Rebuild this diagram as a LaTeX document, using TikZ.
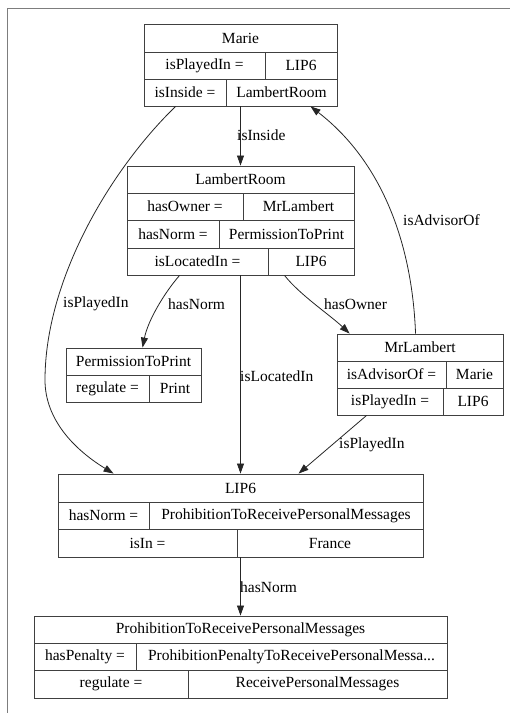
\documentclass[tikz,border=0pt]{standalone}
\usepackage{fontspec}
\setmainfont{Liberation Serif}
\usetikzlibrary{arrows.meta,calc}
\definecolor{framegray}{RGB}{125,125,125}
\newcommand\fsz{\fontsize{15.5}{18}\selectfont}
\newcommand\rcell[6]{\node[cellbox,minimum width={(#4-#2)*1pt},minimum height={(#5-#3)*1pt}] (#1) at ({(#2+#4)/2},{(#3+#5)/2}) {#6};}
\begin{document}
\begin{tikzpicture}[x=1pt,y=-1pt,
  cellbox/.style={draw=black!75,line width=0.9pt,inner sep=0pt,font=\fsz},
  edgeline/.style={draw=black!85,line width=0.8pt,-{Triangle[length=10pt,width=7pt]}},
  labeltxt/.style={font=\fsz,inner sep=0pt,anchor=west}]
\useasboundingbox (0,0) rectangle (510,713);
\draw[framegray,line width=1.5pt] (7.5,713) -- (7.5,8.5) -- (510,8.5);
% Marie
\rcell{mH}{144}{24}{337}{52}{Marie}
\rcell{mK2}{144}{52}{265}{79}{isPlayedIn =}
\rcell{mV2}{265}{52}{337}{79}{LIP6}
\rcell{mK3}{144}{79}{226}{106}{isInside =}
\rcell{mV3}{226}{79}{337}{106}{LambertRoom}
% LambertRoom
\rcell{lH}{127}{166}{354}{193}{LambertRoom}
\rcell{lK2}{127}{193}{243}{220}{hasOwner =}
\rcell{lV2}{243}{193}{354}{220}{MrLambert}
\rcell{lK3}{127}{220}{219}{248}{hasNorm =}
\rcell{lV3}{219}{220}{354}{248}{PermissionToPrint}
\rcell{lK4}{127}{248}{268}{275}{isLocatedIn =}
\rcell{lV4}{268}{248}{354}{275}{LIP6}
% PermissionToPrint
\rcell{pH}{66}{348}{201}{375}{PermissionToPrint}
\rcell{pK2}{66}{375}{149}{402}{regulate =}
\rcell{pV2}{149}{375}{201}{402}{Print}
% MrLambert
\rcell{rH}{337}{334}{503}{361}{MrLambert}
\rcell{rK2}{337}{361}{446}{388}{isAdvisorOf =}
\rcell{rV2}{446}{361}{503}{388}{Marie}
\rcell{rK3}{337}{388}{443}{415}{isPlayedIn =}
\rcell{rV3}{443}{388}{503}{415}{LIP6}
% LIP6
\rcell{iH}{58}{474}{423}{502}{LIP6}
\rcell{iK2}{58}{502}{149}{529}{hasNorm =}
\rcell{iV2}{149}{502}{423}{529}{ProhibitionToReceivePersonalMessages}
\rcell{iK3}{58}{529}{237}{557}{isIn =}
\rcell{iV3}{237}{529}{423}{557}{France}
% Prohibition
\rcell{qH}{34}{616}{447}{643}{ProhibitionToReceivePersonalMessages}
\rcell{qK2}{34}{643}{136}{670}{hasPenalty =}
\rcell{qV2}{136}{643}{447}{670}{ProhibitionPenaltyToReceivePersonalMessa...}
\rcell{qK3}{34}{670}{188}{698}{regulate =}
\rcell{qV3}{188}{670}{447}{698}{ReceivePersonalMessages}
% edges
\draw[edgeline] (mV3.south west -| lH.north) -- (lH.north);
\draw[edgeline] ([xshift=32pt]mK3.south west) .. controls (110,170) and (45,280) .. (45,380)
   .. controls (45,420) and (75,450) .. ([xshift=56pt]iH.north west);
\draw[edgeline] ([xshift=53pt]lK4.south west) .. controls (165,292) and (148,320) .. ([xshift=77pt]pH.north west);
\draw[edgeline] ([xshift=17pt]lV4.south west) .. controls (300,295) and (330,315) .. ([xshift=13pt]rH.north west);
\draw[edgeline] (lH.north |- lK4.south) -- (iH.north);
\draw[edgeline] ([xshift=30pt]rK3.south west) -- ([xshift=241pt]iH.north west);
\draw[edgeline] ([xshift=79pt]rH.north west) .. controls (412,240) and (380,160) .. ([xshift=85pt]mV3.south west);
\draw[edgeline] (qH.north |- iK3.south) -- (qH.north);
% labels
\node[labeltxt] (l1) at (237,135) {isInside};
\node[labeltxt] (l2) at (63,304) {isPlayedIn};
\node[labeltxt] (l3) at (168,304) {hasNorm};
\node[labeltxt] (l4) at (324,304) {hasOwner};
\node[labeltxt] (l5) at (240,376) {isLocatedIn};
\node[labeltxt] (l6) at (339,445) {isPlayedIn};
\node[labeltxt] (l7) at (403,220) {isAdvisorOf};
\node[labeltxt] (l8) at (240,587) {hasNorm};
\end{tikzpicture}
\end{document}
